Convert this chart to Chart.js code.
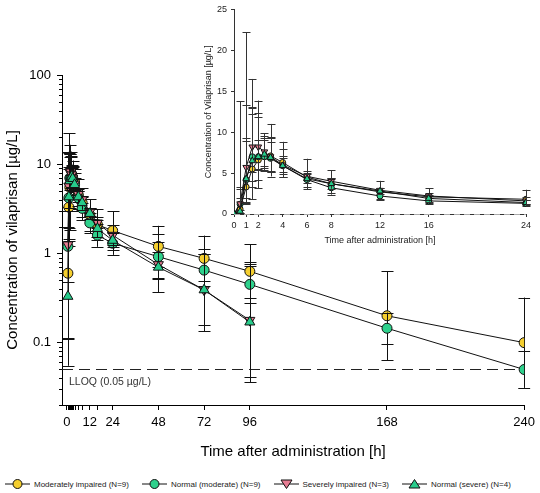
<!DOCTYPE html>
<html>
<head>
<meta charset="utf-8">
<script src="https://cdn.jsdelivr.net/npm/chart.js@4.4.1/dist/chart.umd.min.js"></script>
<style>
  body { margin: 0; background: #fff; }
  #wrap { position: relative; width: 540px; height: 493px; font-family: "Liberation Sans", Arial, sans-serif; }
  #mainBox { position: absolute; left: 0; top: 0; width: 540px; height: 465px; }
  #insetBox { position: absolute; left: 195px; top: 0; width: 345px; height: 248px; }
  #legend { position: absolute; left: 5px; top: 477px; height: 14px; display: flex; align-items: center; gap: 13px; font-size: 8px; color: #222; }
  #legend .item { display: flex; align-items: center; gap: 4px; white-space: nowrap; }
</style>
</head>
<body>
<div id="wrap">
  <div id="mainBox"><canvas id="mainChart"></canvas></div>
  <div id="insetBox"><canvas id="insetChart"></canvas></div>
  <div id="legend"></div>
</div>
<script>
// sampling times [h]
const times = [0, 0.5, 1, 1.5, 2, 2.5, 3, 4, 6, 8, 12, 16, 24, 48, 72, 96, 168, 240];

// geometric means [µg/L]
const modImpaired = [0, 0.6, 3.3, 5.5, 6.6, 7.0, 7.1, 6.3, 4.5, 3.7, 2.7, 2.1, 1.8, 1.2, 0.88, 0.63, 0.2, 0.1];
const normalMod   = [0, 1.2, 4.2, 7.0, 7.0, 7.0, 6.8, 5.9, 4.2, 3.2, 2.2, 1.6, 1.3, 0.92, 0.65, 0.45, 0.145, 0.05];
const sevImpaired = [0, 1.25, 5.7, 8.2, 8.2, 7.6, 7.0, 6.0, 4.6, 4.0, 2.9, 2.2, 1.6, 0.75, 0.39, 0.178, null, null];
const normalSev   = [0, 0.33, 4.3, 6.5, 7.0, 7.3, 6.9, 5.9, 4.3, 3.7, 2.8, 1.9, 1.4, 0.7, 0.39, 0.17, null, null];

// geometric SD factors (error bar = mean / f ... mean * f)
const modImpairedGsd = [1, 5.5, 2.7, 3.0, 2.1, 1.3, 1.55, 1.4, 1.5, 1.45, 1.5, 1.5, 1.65, 1.7, 1.8, 2.0, 3.15, 3.2];
const normalModGsd   = [1, 2.5, 2.2, 1.74, 1.7, 1.33, 1.3, 1.2, 1.25, 1.35, 1.3, 1.35, 1.35, 1.8, 1.5, 1.6, 1.5, 1.6];
const sevImpairedGsd = [1, 11, 3.9, 1.6, 1.5, 1.3, 1.35, 1.33, 1.1, 1.1, 1.1, 1.15, 1.3, 1.4, 2.5, 4.3, null, null];
const normalSevGsd   = [1, 6, 3.1, 2.0, 1.3, 1.3, 1.35, 1.15, 1.15, 1.2, 1.15, 1.25, 1.2, 1.9, 2.9, 4.7, null, null];

const lloq = 0.05;

// axis ticks
const xMajorMain = [0, 12, 24, 48, 72, 96, 168, 240];
const xMinorMain = [0.5, 1, 1.5, 2, 2.5, 3, 4, 6, 8, 16];
const yMajorMain = [0.1, 1, 10, 100];
const yMinorMain = [0.02, 0.03, 0.04, 0.05, 0.06, 0.07, 0.08, 0.09, 0.2, 0.3, 0.4, 0.5, 0.6, 0.7, 0.8, 0.9,
                    2, 3, 4, 5, 6, 7, 8, 9, 20, 30, 40, 50, 60, 70, 80, 90];
const xTicksInset = [0, 1, 2, 4, 6, 8, 12, 16, 24];
const yTicksInset = [0, 5, 10, 15, 20, 25];

const groups = [
  { label: 'Moderately impaired (N=9)', values: modImpaired, gsd: modImpairedGsd, color: '#F5CF2F', style: 'circle', rot: 0 },
  { label: 'Normal (moderate) (N=9)', values: normalMod, gsd: normalModGsd, color: '#2ED18C', style: 'circle', rot: 0 },
  { label: 'Severely impaired (N=3)', values: sevImpaired, gsd: sevImpairedGsd, color: '#E77D93', style: 'triangle', rot: 180 },
  { label: 'Normal (severe) (N=4)', values: normalSev, gsd: normalSevGsd, color: '#27CC8B', style: 'triangle', rot: 0 }
];

Chart.defaults.font.family = '"Liberation Sans", Arial, sans-serif';
Chart.defaults.color = '#000';

const errorBars = {
  id: 'errorBars',
  beforeDatasetDraw(chart, args, opts) {
    const ds = chart.data.datasets[args.index];
    const { x, y } = chart.scales;
    const area = chart.chartArea;
    const ctx = chart.ctx;
    ctx.save();
    ctx.beginPath();
    ctx.rect(area.left, area.top - 2, area.right - area.left + 6, area.bottom - area.top + 2);
    ctx.clip();
    ctx.strokeStyle = opts.color;
    ctx.lineWidth = 1;
    ds.data.forEach((p, i) => {
      const f = ds.gsd[i];
      if (p.y == null || !(p.y > 0) || f == null || f <= 1) return;
      const px = Math.round(x.getPixelForValue(p.x)) + 0.5;
      const hi = y.getPixelForValue(p.y * f);
      const lo = y.getPixelForValue(p.y / f);
      const w = opts.cap;
      ctx.beginPath();
      ctx.moveTo(px, lo); ctx.lineTo(px, hi);
      ctx.moveTo(px - w, Math.round(hi) + 0.5); ctx.lineTo(px + w, Math.round(hi) + 0.5);
      ctx.moveTo(px - w, Math.round(lo) + 0.5); ctx.lineTo(px + w, Math.round(lo) + 0.5);
      ctx.stroke();
    });
    ctx.restore();
  }
};

const refLine = {
  id: 'refLine',
  beforeDatasetsDraw(chart, args, opts) {
    const { x, y } = chart.scales;
    const ctx = chart.ctx;
    const py = Math.round(y.getPixelForValue(opts.value)) + 0.5;
    ctx.save();
    ctx.strokeStyle = opts.color;
    ctx.lineWidth = 1;
    ctx.setLineDash(opts.dash);
    ctx.beginPath();
    ctx.moveTo(chart.chartArea.left, py);
    ctx.lineTo(chart.chartArea.right, py);
    ctx.stroke();
    if (opts.text) {
      ctx.setLineDash([]);
      ctx.fillStyle = '#333';
      ctx.font = '10.5px "Liberation Sans", Arial, sans-serif';
      ctx.textBaseline = 'middle';
      ctx.fillText(opts.text, chart.chartArea.left + 7, py + 13);
    }
    ctx.restore();
  }
};

const minorTicks = {
  id: 'minorTicks',
  afterDraw(chart, args, opts) {
    const { x, y } = chart.scales;
    const ctx = chart.ctx;
    ctx.save();
    ctx.strokeStyle = '#000';
    ctx.lineWidth = 1;
    ctx.beginPath();
    (opts.x || []).forEach(v => {
      const px = Math.round(x.getPixelForValue(v)) + 0.5;
      ctx.moveTo(px, y.bottom); ctx.lineTo(px, y.bottom + opts.xLen);
    });
    (opts.y || []).forEach(v => {
      const py = Math.round(y.getPixelForValue(v)) + 0.5;
      ctx.moveTo(x.left, py); ctx.lineTo(x.left - opts.yLen, py);
    });
    ctx.stroke();
    ctx.restore();
  }
};

function makeDatasets(maxTime, radius, positiveOnly) {
  return groups.map((g, k) => {
    const data = [];
    times.forEach((t, i) => {
      if (t > maxTime) return;
      let v = g.values[i];
      if (positiveOnly && !(v > 0)) v = null;
      data.push({ x: t, y: v });
    });
    return {
      label: g.label,
      data: data,
      gsd: g.gsd,
      borderColor: '#111',
      borderWidth: 1,
      backgroundColor: g.color,
      pointBackgroundColor: g.color,
      pointBorderColor: '#111',
      pointBorderWidth: 1,
      pointStyle: g.style,
      pointRotation: g.rot,
      pointRadius: g.style === 'triangle' ? radius + 0.8 : radius,
      tension: 0,
      order: 4 - k
    };
  });
}

new Chart(document.getElementById('mainChart'), {
  type: 'line',
  data: { datasets: makeDatasets(240, 5, true) },
  plugins: [errorBars, refLine, minorTicks],
  options: {
    responsive: true,
    maintainAspectRatio: false,
    animation: false,
    layout: { padding: { left: 0, right: 13, top: 75, bottom: 0 } },
    plugins: {
      legend: { display: false },
      tooltip: { enabled: false },
      errorBars: { color: '#111', cap: 6 },
      refLine: { value: lloq, color: '#222', dash: [11, 6], text: 'LLOQ (0.05 µg/L)' },
      minorTicks: { x: xMinorMain, y: yMinorMain, xLen: 5, yLen: 3 }
    },
    scales: {
      x: {
        type: 'linear',
        min: -2.6,
        max: 240,
        afterBuildTicks: s => { s.ticks = xMajorMain.map(v => ({ value: v })); },
        afterFit: s => { s.height = 60; },
        ticks: { autoSkip: false, maxRotation: 0, padding: 5, font: { size: 13 }, callback: v => String(v) },
        grid: { drawOnChartArea: false, tickLength: 5, tickColor: '#000' },
        border: { color: '#000' },
        title: { display: true, text: 'Time after administration [h]', font: { size: 15 }, padding: { top: 4, bottom: 4 } }
      },
      y: {
        type: 'logarithmic',
        min: 0.02,
        max: 100,
        afterBuildTicks: s => { s.ticks = yMajorMain.map(v => ({ value: v })); },
        afterFit: s => { s.width = 62; },
        ticks: { autoSkip: false, padding: 6, font: { size: 13 }, callback: v => String(v) },
        grid: { drawOnChartArea: false, tickLength: 5, tickColor: '#000' },
        border: { color: '#000' },
        title: { display: true, text: 'Concentration of vilaprisan [µg/L]', font: { size: 15 }, padding: { top: 4, bottom: 0 } }
      }
    }
  }
});

new Chart(document.getElementById('insetChart'), {
  type: 'line',
  data: { datasets: makeDatasets(24, 3, false) },
  plugins: [errorBars, refLine],
  options: {
    responsive: true,
    maintainAspectRatio: false,
    animation: false,
    layout: { padding: { left: 0, right: 14, top: 5, bottom: 0 } },
    plugins: {
      legend: { display: false },
      tooltip: { enabled: false },
      errorBars: { color: '#333', cap: 4 },
      refLine: { value: lloq, color: '#aaa', dash: [6, 4] }
    },
    scales: {
      x: {
        type: 'linear',
        min: 0,
        max: 24,
        afterBuildTicks: s => { s.ticks = xTicksInset.map(v => ({ value: v })); },
        afterFit: s => { s.height = 34; },
        ticks: { autoSkip: false, maxRotation: 0, padding: 3, font: { size: 9 }, color: '#222', callback: v => String(v) },
        grid: { drawOnChartArea: false, tickLength: 3, tickColor: '#333' },
        border: { color: '#333' },
        title: { display: true, text: 'Time after administration [h]', font: { size: 9 }, color: '#222', padding: { top: 2, bottom: 2 } }
      },
      y: {
        type: 'linear',
        min: 0,
        max: 25,
        afterBuildTicks: s => { s.ticks = yTicksInset.map(v => ({ value: v })); },
        afterFit: s => { s.width = 39; },
        ticks: { autoSkip: false, padding: 4, font: { size: 9 }, color: '#222', callback: v => String(v) },
        grid: { drawOnChartArea: false, tickLength: 3, tickColor: '#333' },
        border: { color: '#333' },
        title: { display: true, text: 'Concentration of Vilaprisan [µg/L]', font: { size: 9 }, color: '#222', padding: { top: 8, bottom: 0 } }
      }
    }
  }
});

// legend
const legendEl = document.getElementById('legend');
groups.forEach(g => {
  let marker;
  if (g.style === 'circle') {
    marker = `<circle cx="12.5" cy="6" r="4.5" fill="${g.color}" stroke="#111" stroke-width="1"/>`;
  } else if (g.rot === 180) {
    marker = `<polygon points="7,2 18,2 12.5,10.5" fill="${g.color}" stroke="#111" stroke-width="1"/>`;
  } else {
    marker = `<polygon points="7,10 18,10 12.5,1.5" fill="${g.color}" stroke="#111" stroke-width="1"/>`;
  }
  const item = document.createElement('div');
  item.className = 'item';
  item.innerHTML = `<svg width="25" height="12"><line x1="0" y1="6" x2="25" y2="6" stroke="#111" stroke-width="1"/>${marker}</svg><span>${g.label}</span>`;
  legendEl.appendChild(item);
});
</script>
</body>
</html>
